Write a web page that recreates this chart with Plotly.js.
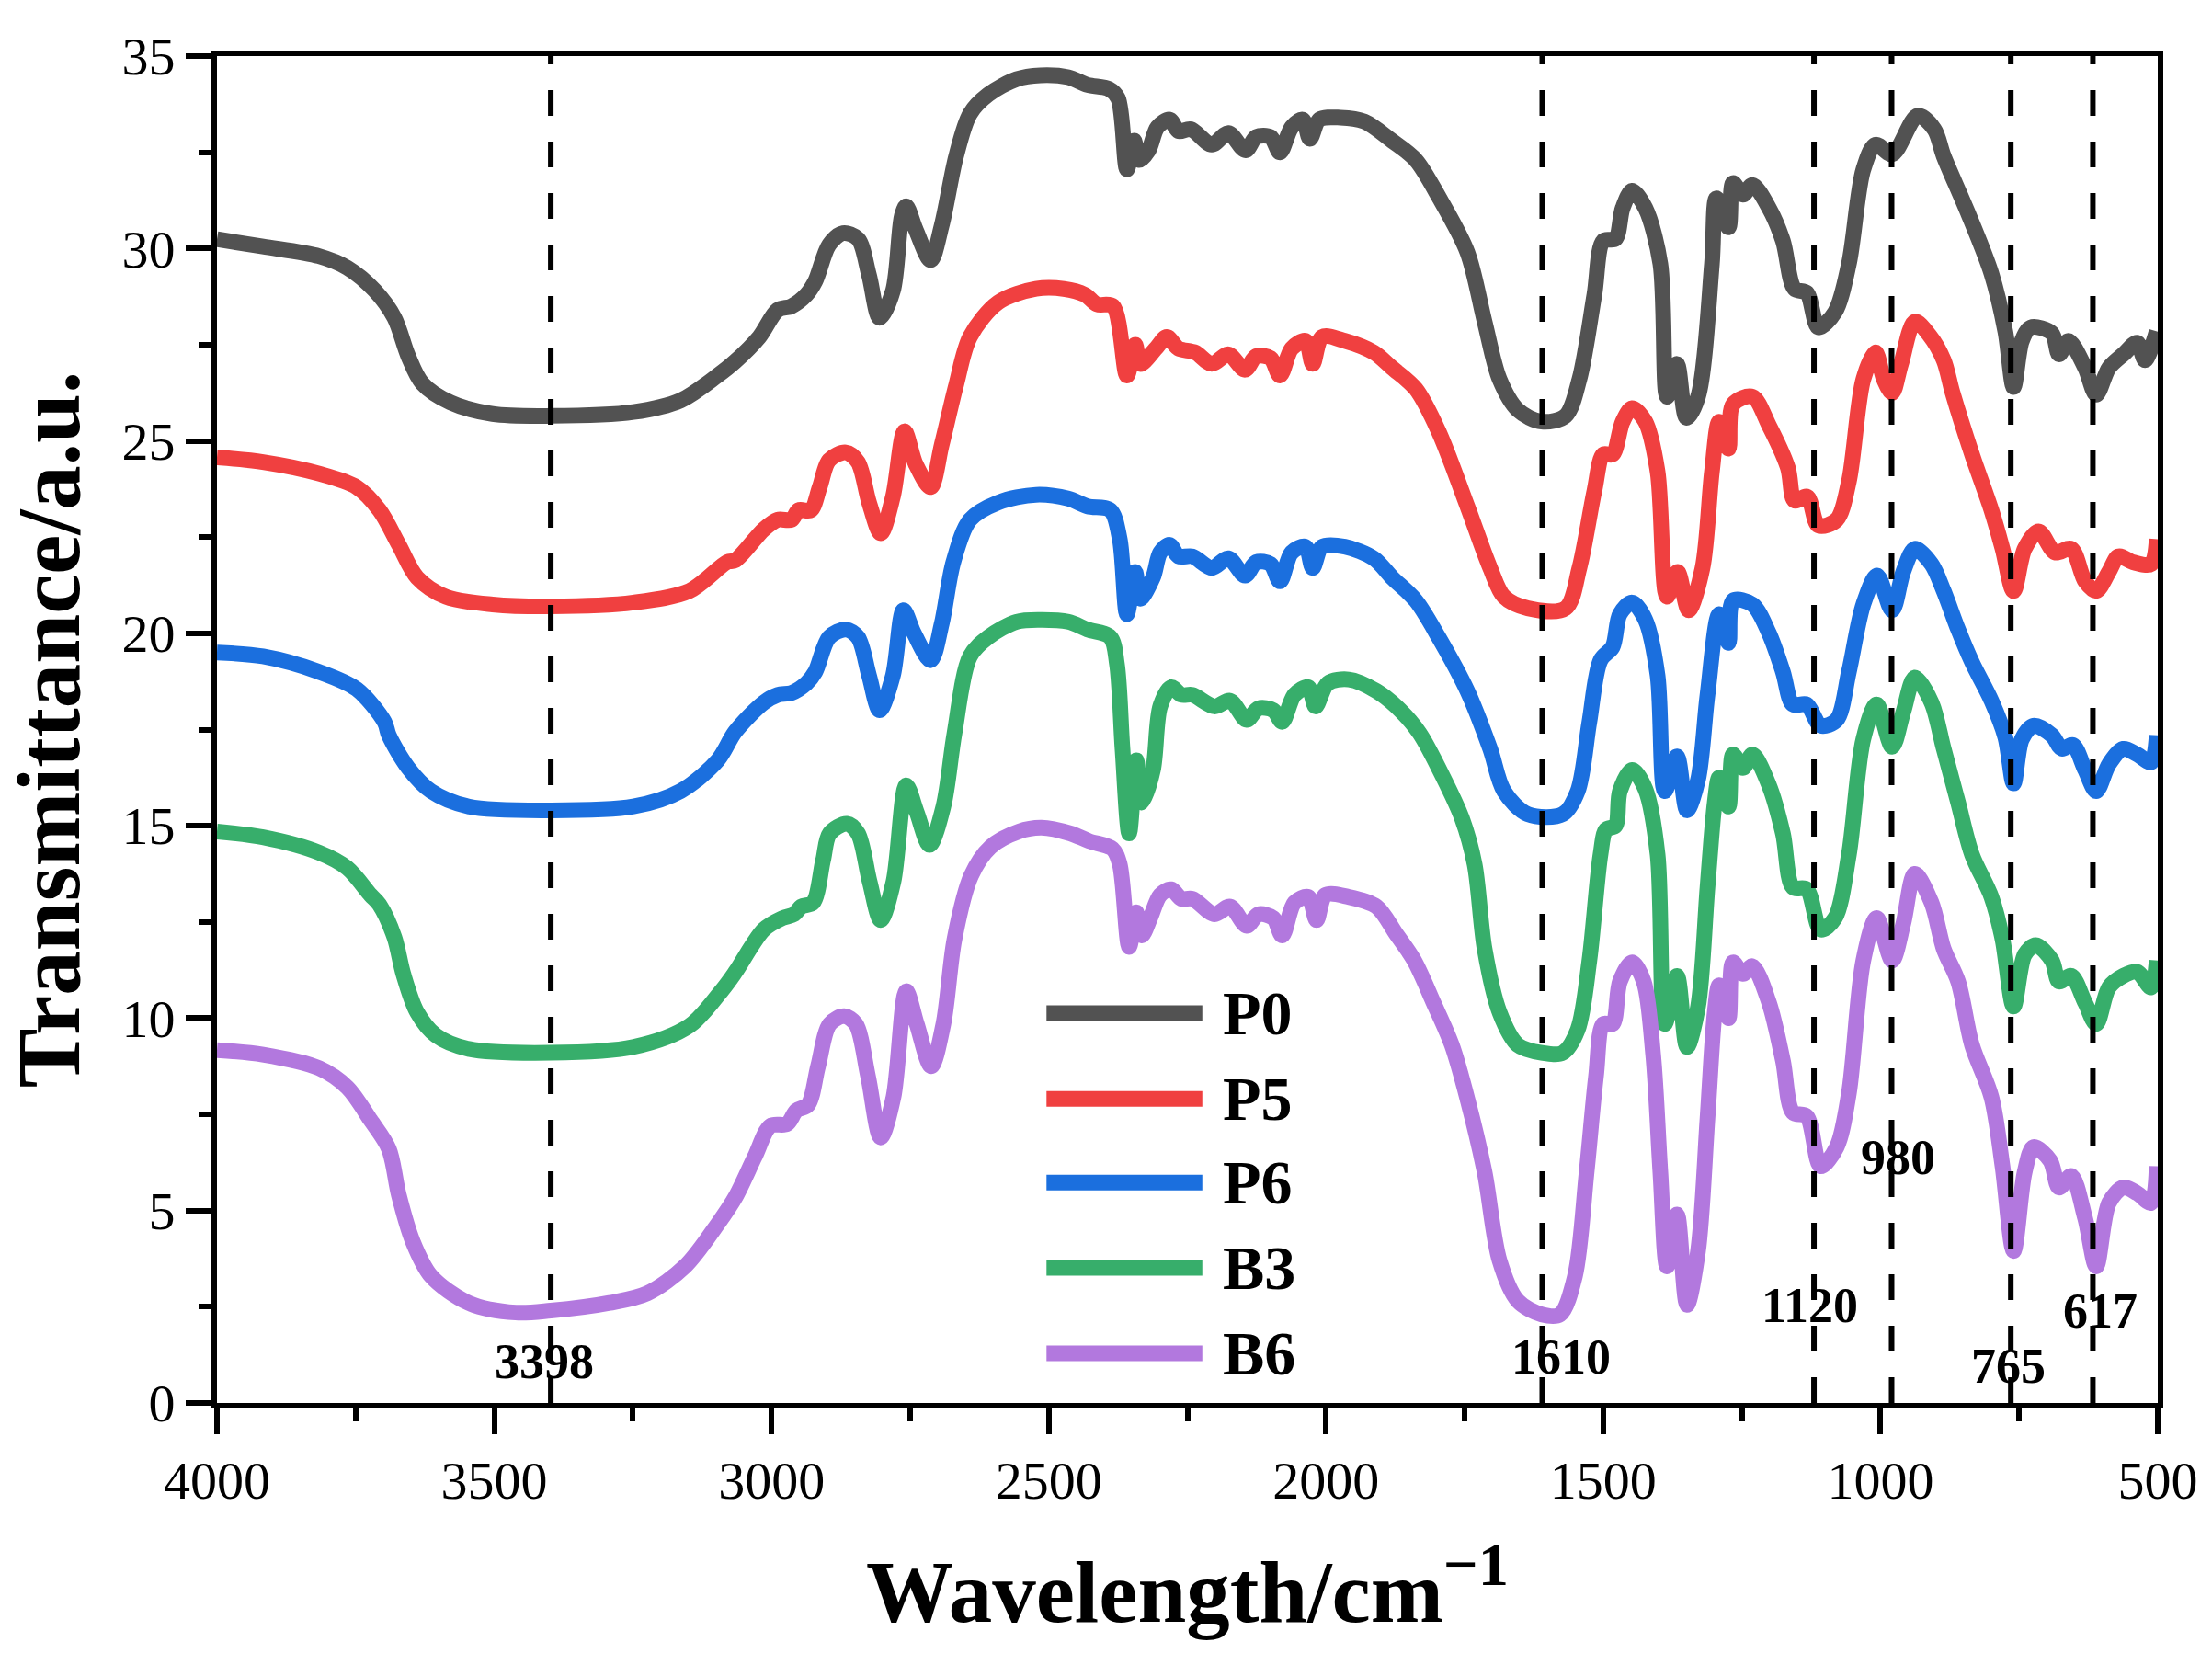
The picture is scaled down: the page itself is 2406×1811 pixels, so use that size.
<!DOCTYPE html>
<html>
<head>
<meta charset="utf-8">
<script src="https://cdn.plot.ly/plotly-3.0.1.min.js"></script>
<style>
  body { margin: 0; background: #fff; }
  #myDiv { width: 2406px; height: 1811px; }
</style>
</head>
<body>
<div id="myDiv"></div>
<script>
// spectra (wavenumber cm-1, transmittance a.u.)
let p0X = [4000, 3917, 3816, 3765, 3715, 3680, 3655, 3630, 3579, 3503, 3398, 3249, 3164, 3097, 3065, 3022, 2989, 2964, 2937, 2921, 2896, 2871, 2844, 2824, 2805, 2781, 2765, 2757, 2740, 2713, 2693, 2667, 2642, 2609, 2558, 2515, 2465, 2430, 2392, 2375, 2359, 2346, 2337, 2320, 2304, 2282, 2266, 2244, 2206, 2176, 2145, 2126, 2100, 2083, 2062, 2042, 2029, 2012, 1974, 1931, 1881, 1838, 1797, 1745, 1714, 1687, 1654, 1611, 1568, 1543, 1516, 1500, 1478, 1465, 1448, 1424, 1397, 1385, 1367, 1350, 1329, 1304, 1296, 1274, 1266, 1248, 1231, 1201, 1176, 1155, 1133, 1112, 1082, 1057, 1031, 1009, 979, 933, 903, 886, 843, 800, 775, 760, 745, 729, 691, 678, 661, 631, 611, 588, 562, 537, 523, 502];
let p0Y = [30.24, 30.05, 29.8, 29.5, 28.9, 28.2, 27.2, 26.5, 26.0, 25.7, 25.65, 25.75, 26.05, 26.7, 27.07, 27.7, 28.4, 28.5, 28.8, 29.15, 30.1, 30.4, 30.25, 29.3, 28.2, 28.9, 30.85, 31.1, 30.5, 29.7, 30.6, 32.4, 33.5, 34.0, 34.4, 34.5, 34.45, 34.25, 34.15, 33.9, 32.06, 32.8, 32.3, 32.55, 33.15, 33.35, 33.05, 33.1, 32.7, 33.0, 32.55, 32.9, 32.9, 32.5, 33.15, 33.35, 32.85, 33.35, 33.4, 33.3, 32.8, 32.3, 31.35, 29.9, 28.1, 26.6, 25.8, 25.5, 25.65, 26.6, 28.8, 30.2, 30.25, 31.05, 31.5, 31.05, 29.6, 26.15, 27.0, 25.6, 26.15, 29.6, 31.3, 30.55, 31.7, 31.4, 31.65, 31.05, 30.2, 28.95, 28.85, 27.95, 28.35, 29.6, 32.05, 32.7, 32.45, 33.45, 33.1, 32.4, 30.95, 29.35, 27.85, 26.4, 27.6, 27.95, 27.8, 27.25, 27.6, 26.9, 26.2, 26.9, 27.25, 27.55, 27.1, 27.85];

let p5X = [4000, 3917, 3816, 3748, 3707, 3672, 3639, 3587, 3503, 3398, 3249, 3148, 3080, 3065, 3014, 2989, 2964, 2951, 2929, 2913, 2896, 2866, 2844, 2824, 2803, 2781, 2760, 2740, 2713, 2693, 2667, 2642, 2591, 2523, 2473, 2435, 2413, 2384, 2359, 2344, 2335, 2307, 2287, 2266, 2236, 2206, 2176, 2146, 2126, 2100, 2083, 2062, 2037, 2024, 2007, 1966, 1914, 1881, 1838, 1797, 1745, 1704, 1679, 1636, 1568, 1543, 1516, 1500, 1483, 1465, 1448, 1424, 1402, 1385, 1366, 1346, 1321, 1304, 1291, 1274, 1266, 1231, 1201, 1167, 1155, 1132, 1112, 1079, 1057, 1031, 1009, 994, 979, 963, 938, 912, 886, 870, 835, 800, 780, 760, 740, 715, 685, 656, 631, 611, 588, 571, 545, 512, 502];
let p5Y = [24.57, 24.45, 24.15, 23.8, 23.2, 22.3, 21.45, 20.95, 20.75, 20.7, 20.8, 21.1, 21.85, 21.9, 22.7, 22.95, 22.95, 23.2, 23.2, 23.8, 24.5, 24.7, 24.45, 23.4, 22.6, 23.55, 25.25, 24.4, 23.8, 24.9, 26.45, 27.7, 28.6, 28.95, 28.95, 28.8, 28.55, 28.5, 26.7, 27.5, 27.0, 27.4, 27.7, 27.4, 27.3, 27.0, 27.25, 26.85, 27.2, 27.15, 26.7, 27.4, 27.6, 27.0, 27.7, 27.6, 27.3, 26.9, 26.35, 25.25, 23.3, 21.7, 20.95, 20.65, 20.65, 21.7, 23.7, 24.65, 24.65, 25.5, 25.85, 25.5, 24.2, 20.95, 21.6, 20.6, 21.7, 24.2, 25.5, 24.8, 25.95, 26.15, 25.4, 24.3, 23.45, 23.55, 22.8, 22.95, 23.95, 26.6, 27.3, 26.6, 26.25, 27.0, 28.1, 27.75, 27.1, 26.25, 24.65, 23.2, 22.2, 21.1, 22.2, 22.65, 22.1, 22.2, 21.35, 21.1, 21.6, 22.0, 21.85, 21.8, 22.45];

let p6X = [4000, 3917, 3816, 3748, 3698, 3690, 3655, 3614, 3546, 3398, 3249, 3164, 3097, 3065, 3014, 2989, 2964, 2937, 2921, 2896, 2866, 2844, 2824, 2805, 2781, 2762, 2743, 2713, 2693, 2672, 2642, 2591, 2523, 2465, 2430, 2389, 2372, 2359, 2344, 2335, 2312, 2299, 2282, 2266, 2241, 2206, 2176, 2146, 2126, 2100, 2083, 2062, 2037, 2024, 2007, 1966, 1914, 1881, 1838, 1797, 1745, 1704, 1679, 1636, 1573, 1546, 1525, 1505, 1483, 1470, 1448, 1424, 1402, 1389, 1367, 1349, 1329, 1312, 1291, 1274, 1266, 1231, 1201, 1176, 1158, 1133, 1108, 1079, 1057, 1031, 1006, 979, 959, 938, 908, 886, 860, 835, 800, 775, 760, 745, 724, 691, 673, 653, 631, 611, 588, 562, 537, 512, 502];
let p6Y = [19.5, 19.4, 19.0, 18.55, 17.7, 17.35, 16.5, 15.9, 15.5, 15.4, 15.5, 15.9, 16.7, 17.45, 18.2, 18.4, 18.45, 18.7, 19.0, 19.9, 20.1, 19.9, 18.9, 18.0, 18.9, 20.6, 20.0, 19.3, 20.25, 21.85, 22.95, 23.4, 23.6, 23.5, 23.3, 23.2, 22.45, 20.5, 21.6, 20.9, 21.45, 22.1, 22.3, 22.0, 22.0, 21.7, 21.95, 21.5, 21.85, 21.8, 21.35, 22.1, 22.25, 21.7, 22.25, 22.25, 21.95, 21.45, 20.85, 19.9, 18.5, 17.0, 15.9, 15.3, 15.3, 15.9, 17.7, 19.3, 19.65, 20.5, 20.8, 20.35, 18.9, 15.9, 16.8, 15.4, 16.2, 18.4, 20.5, 19.75, 20.85, 20.75, 20.0, 19.0, 18.15, 18.15, 17.6, 17.75, 19.0, 20.75, 21.5, 20.6, 21.6, 22.2, 21.8, 21.1, 20.1, 19.25, 18.25, 17.3, 16.1, 17.25, 17.6, 17.35, 17.0, 17.1, 16.45, 15.9, 16.6, 17.0, 16.85, 16.65, 17.35];

let b3X = [4000, 3917, 3816, 3765, 3723, 3707, 3680, 3664, 3639, 3605, 3546, 3398, 3249, 3148, 3088, 3065, 3014, 2980, 2959, 2946, 2925, 2907, 2895, 2864, 2844, 2823, 2803, 2780, 2757, 2738, 2715, 2690, 2670, 2642, 2609, 2558, 2515, 2465, 2430, 2389, 2377, 2367, 2355, 2342, 2332, 2312, 2299, 2279, 2261, 2241, 2201, 2173, 2143, 2122, 2095, 2079, 2057, 2032, 2019, 1997, 1959, 1909, 1866, 1831, 1790, 1755, 1732, 1714, 1687, 1654, 1611, 1573, 1546, 1525, 1505, 1495, 1478, 1470, 1448, 1424, 1402, 1389, 1367, 1349, 1329, 1312, 1299, 1291, 1274, 1266, 1248, 1231, 1201, 1176, 1158, 1133, 1108, 1082, 1057, 1031, 1007, 979, 959, 938, 908, 886, 860, 835, 800, 780, 760, 740, 720, 691, 678, 656, 631, 611, 588, 562, 537, 512, 502];
let b3Y = [14.85, 14.7, 14.3, 13.9, 13.2, 12.95, 12.1, 11.15, 10.15, 9.55, 9.2, 9.1, 9.25, 9.8, 10.75, 11.2, 12.3, 12.6, 12.7, 12.9, 13.0, 14.1, 14.8, 15.05, 14.8, 13.55, 12.55, 13.55, 16.05, 15.35, 14.5, 15.5, 17.4, 19.4, 19.9, 20.3, 20.35, 20.3, 20.1, 19.9, 19.2, 17.0, 14.8, 16.7, 15.6, 16.45, 18.1, 18.6, 18.4, 18.4, 18.1, 18.25, 17.75, 18.05, 18.0, 17.7, 18.4, 18.6, 18.1, 18.7, 18.8, 18.5, 18.0, 17.4, 16.3, 15.2, 14.0, 11.8, 10.15, 9.3, 9.1, 9.1, 9.7, 11.5, 14.25, 14.9, 15.0, 15.9, 16.45, 15.95, 14.25, 9.85, 11.1, 9.25, 10.3, 13.4, 15.6, 16.25, 15.5, 16.85, 16.5, 16.85, 16.05, 14.8, 13.4, 13.35, 12.3, 12.6, 14.25, 17.25, 18.15, 17.05, 17.95, 18.85, 18.2, 17.0, 15.6, 14.25, 13.15, 12.05, 10.3, 11.65, 11.9, 11.5, 10.95, 11.1, 10.4, 9.85, 10.8, 11.1, 11.2, 10.8, 11.5];

let b6X = [4000, 3917, 3816, 3765, 3723, 3690, 3672, 3647, 3614, 3546, 3461, 3398, 3292, 3224, 3156, 3097, 3065, 3030, 3002, 2972, 2955, 2934, 2916, 2895, 2869, 2848, 2826, 2803, 2780, 2757, 2738, 2712, 2690, 2670, 2640, 2605, 2554, 2513, 2461, 2427, 2385, 2372, 2355, 2342, 2332, 2317, 2299, 2279, 2261, 2241, 2201, 2173, 2143, 2122, 2095, 2079, 2057, 2032, 2017, 2001, 1959, 1909, 1874, 1841, 1806, 1773, 1745, 1714, 1687, 1654, 1611, 1578, 1551, 1530, 1513, 1500, 1483, 1470, 1448, 1427, 1410, 1397, 1385, 1367, 1349, 1329, 1312, 1299, 1291, 1274, 1266, 1248, 1231, 1201, 1176, 1158, 1133, 1108, 1079, 1057, 1031, 1007, 979, 959, 938, 908, 886, 860, 835, 800, 780, 760, 740, 724, 694, 678, 656, 631, 611, 588, 562, 537, 512, 502];
let b6Y = [9.17, 9.05, 8.7, 8.2, 7.35, 6.6, 5.4, 4.2, 3.3, 2.6, 2.35, 2.4, 2.6, 2.85, 3.55, 4.65, 5.35, 6.4, 7.2, 7.25, 7.6, 7.75, 8.75, 9.85, 10.05, 9.85, 8.5, 6.9, 7.95, 10.7, 9.85, 8.75, 9.85, 12.05, 13.7, 14.45, 14.85, 14.95, 14.8, 14.6, 14.4, 14.0, 11.85, 12.75, 12.15, 12.6, 13.2, 13.35, 13.1, 13.1, 12.7, 12.9, 12.4, 12.7, 12.6, 12.15, 13.0, 13.15, 12.55, 13.2, 13.15, 12.9, 12.2, 11.5, 10.4, 9.3, 7.9, 6.0, 3.7, 2.65, 2.3, 2.3, 3.3, 6.0, 8.5, 9.85, 9.85, 10.95, 11.45, 10.95, 9.05, 6.0, 3.55, 4.9, 2.55, 3.95, 7.4, 10.15, 10.85, 10.0, 11.45, 11.15, 11.35, 10.4, 8.9, 7.55, 7.45, 6.15, 6.65, 8.05, 11.5, 12.6, 11.5, 12.45, 13.75, 13.0, 11.8, 10.95, 9.3, 7.95, 6.15, 3.95, 6.0, 6.65, 6.3, 5.6, 5.9, 4.8, 3.55, 5.2, 5.6, 5.45, 5.2, 6.15];

let seriesNames = ["P0", "P5", "P6", "B3", "B6"];
let seriesColors = ["#525252", "#F04040", "#1B6FDE", "#37AE6B", "#B278DE"];

// marked bands
let peakLines = [3398, 1610, 1120, 980, 765, 617];
let peakLabels = ["3398", "1610", "1120", "980", "765", "617"];
let peakLabelX = [3410, 1576, 1127, 969, 770, 604];
let peakLabelY = [1.07, 1.19, 2.53, 6.38, 0.96, 2.39];

let xTicks = [4000, 3500, 3000, 2500, 2000, 1500, 1000, 500];
let yTicks = [0, 5, 10, 15, 20, 25, 30, 35];

let serif = "Liberation Serif, Times New Roman, serif";

function drawGraph() {
  let xs = [p0X, p5X, p6X, b3X, b6X];
  let ys = [p0Y, p5Y, p6Y, b3Y, b6Y];
  let data = [];

  for (let i = 0; i < seriesNames.length; i++) {
    data.push({
      x: xs[i],
      y: ys[i],
      name: seriesNames[i],
      mode: "lines",
      type: "scatter",
      line: { color: seriesColors[i], width: 17, shape: "spline", smoothing: 0.9 },
      showlegend: false
    });
  }

  let shapes = [];
  let annotations = [];

  peakLines.forEach(p => {
    shapes.push({
      type: "line",
      xref: "x",
      yref: "paper",
      x0: p,
      x1: p,
      y0: 0,
      y1: 1,
      line: { color: "#000", width: 6, dash: "28px,28px" }
    });
  });

  for (let i = 0; i < peakLabels.length; i++) {
    annotations.push({
      x: peakLabelX[i],
      y: peakLabelY[i],
      xref: "x",
      yref: "y",
      text: peakLabels[i],
      showarrow: false,
      font: { family: serif, size: 54, color: "#000", weight: "bold" }
    });
  }

  // hand-made legend with long sample lines
  let legX0 = 2504;
  let legX1 = 2223;
  let legTextX = 2190;
  let legY = [10.13, 7.9, 5.73, 3.51, 1.29];
  for (let i = 0; i < seriesNames.length; i++) {
    shapes.push({
      type: "line",
      xref: "x",
      yref: "y",
      x0: legX0,
      x1: legX1,
      y0: legY[i],
      y1: legY[i],
      line: { color: seriesColors[i], width: 17 }
    });
    annotations.push({
      x: legTextX,
      y: legY[i],
      xref: "x",
      yref: "y",
      xanchor: "left",
      yanchor: "middle",
      text: seriesNames[i],
      showarrow: false,
      font: { family: serif, size: 68, color: "#000", weight: "bold" }
    });
  }

  let layout = {
    width: 2406,
    height: 1811,
    margin: { l: 236, r: 59, t: 61, b: 285 },
    paper_bgcolor: "#fff",
    plot_bgcolor: "#fff",
    font: { family: serif, color: "#000" },
    xaxis: {
      range: [4000, 500],
      tickvals: xTicks,
      ticktext: xTicks.map(String),
      ticks: "outside",
      ticklen: 28,
      tickwidth: 6,
      tickcolor: "#000",
      minor: { dtick: 250, ticks: "outside", ticklen: 14, tickwidth: 6, tickcolor: "#000" },
      showline: true,
      linewidth: 6,
      linecolor: "#000",
      mirror: true,
      showgrid: false,
      zeroline: false,
      tickfont: { family: serif, size: 58, color: "#000" },
      title: {
        text: "Wavelength/cm<sup>−1</sup>",
        font: { family: serif, size: 95, color: "#000", weight: "bold" },
        standoff: 58
      }
    },
    yaxis: {
      range: [0, 35],
      tickvals: yTicks,
      ticks: "outside",
      ticklen: 28,
      tickwidth: 6,
      tickcolor: "#000",
      minor: { dtick: 2.5, ticks: "outside", ticklen: 14, tickwidth: 6, tickcolor: "#000" },
      showline: true,
      linewidth: 6,
      linecolor: "#000",
      mirror: true,
      showgrid: false,
      zeroline: false,
      tickfont: { family: serif, size: 58, color: "#000" },
      title: {
        text: "Transmittance/a.u.",
        font: { family: serif, size: 97, color: "#000", weight: "bold" },
        standoff: 18
      }
    },
    shapes: shapes,
    annotations: annotations
  };

  Plotly.newPlot("myDiv", data, layout, { displayModeBar: false, staticPlot: true });
}

drawGraph();
</script>
</body>
</html>
